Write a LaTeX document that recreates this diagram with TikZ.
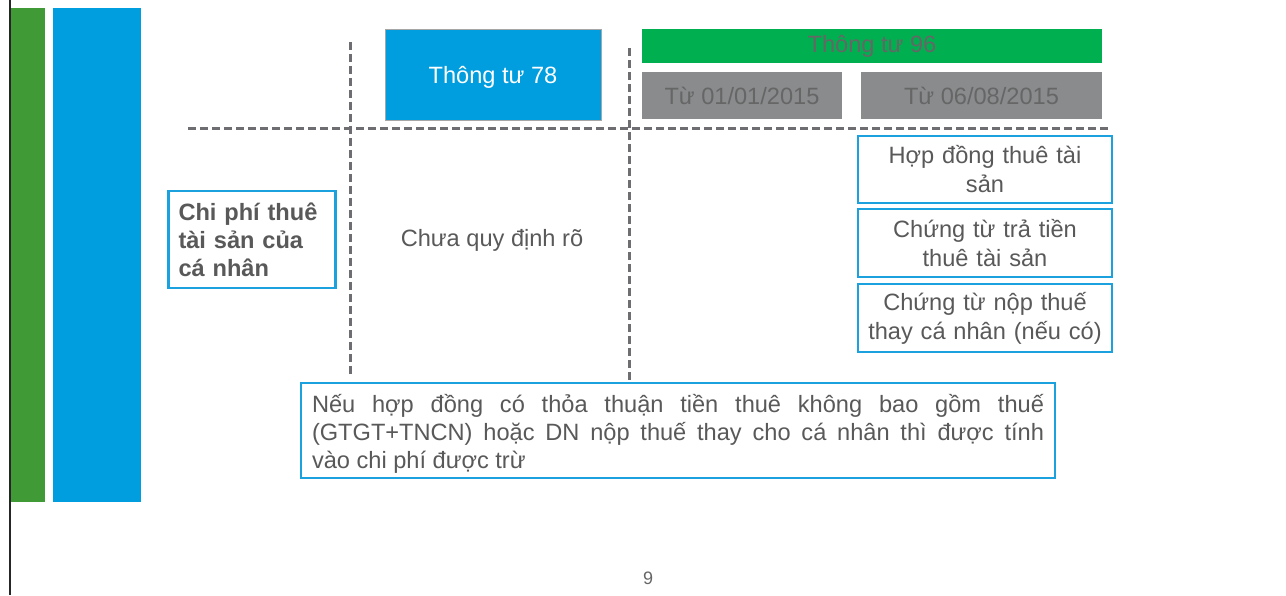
\documentclass[tikz,border=0pt]{standalone}
\usepackage{fontspec}
\setmainfont{Liberation Sans}
\definecolor{barGreen}{RGB}{64,155,54}
\definecolor{barBlue}{RGB}{0,158,223}
\definecolor{hdrGreen}{RGB}{0,176,80}
\definecolor{hdrGray}{RGB}{137,139,141}
\definecolor{txtGray}{RGB}{89,89,89}
\definecolor{txtMid}{RGB}{102,102,102}
\definecolor{dashGray}{RGB}{110,110,114}
\definecolor{frameBlue}{RGB}{27,161,222}
\begin{document}
\begin{tikzpicture}[x=1pt,y=-1pt,
  every node/.style={inner sep=0pt, outer sep=0pt},
  dashline/.style={draw=dashGray, line width=3pt, dash pattern=on 8pt off 4pt},
  framebox/.style={rectangle, draw=frameBlue, line width=2.8pt, fill=white, text=txtGray, align=center,
     font=\fontsize{23.6}{29}\selectfont},
  hdr/.style={rectangle, font=\fontsize{23.6}{28}\selectfont, text=txtMid}
]
\useasboundingbox (0,0) rectangle (1286,595);
\fill[white] (0,0) rectangle (1286,595);
% left decorations
\coordinate (lt) at (10,0); \coordinate (lb) at (10,595);
\draw[line width=2pt, black!85] (lt) -- (lb);
\node[fill=barGreen, minimum width=34pt, minimum height=494pt] (gbar) at (28,254.5) {};
\node[fill=barBlue, minimum width=88pt, minimum height=494pt] (bbar) at (97,254.5) {};
% dashed grid
\coordinate (v1t) at (350,42); \coordinate (v1b) at (350,376);
\coordinate (v2t) at (629,48); \coordinate (v2b) at (629,382);
\coordinate (hl) at (188,128); \coordinate (hr) at (1108,128);
\draw[dashline] (v1t) -- (v1b);
\draw[dashline] (v2t) -- (v2b);
\draw[dashline] (hl) -- (hr);
% headers
\node[hdr, fill=barBlue, draw=black!35, line width=0.8pt, text=white, minimum width=216pt, minimum height=91pt] (tt78) at (493,74.5) {};
\node[text=white, font=\fontsize{23.6}{28}\selectfont] (tt78t) at (493,77) {Thông tư 78};
\node[hdr, fill=hdrGreen, minimum width=460pt, minimum height=34pt] (tt96) at (872,46) {Thông tư 96};
\node[hdr, fill=hdrGray, minimum width=200pt, minimum height=47pt] (d1) at (742,95.5) {Từ 01/01/2015};
\node[hdr, fill=hdrGray, minimum width=241pt, minimum height=47pt] (d2) at (981.5,95.5) {Từ 06/08/2015};
% right boxes
\node[framebox, minimum width=254pt, minimum height=67pt, text width=245pt] (b1) at (985,169.5) {Hợp đồng thuê tài\\sản};
\node[framebox, minimum width=254pt, minimum height=68pt, text width=245pt] (b2) at (985,243) {Chứng từ trả tiền\\thuê tài sản};
\node[framebox, minimum width=254pt, minimum height=68pt, text width=245pt] (b3) at (985,318) {Chứng từ nộp thuế\\thay cá nhân (nếu có)};
% left label box
\node[framebox, minimum width=167pt, minimum height=97pt, text width=147pt, align=left, font=\fontsize{23.6}{28}\selectfont\bfseries] (chi) at (252,239.5) {Chi phí thuê\\tài sản của\\cá nhân};
% middle text
\node[text=txtGray, font=\fontsize{23.6}{28}\selectfont] (chua) at (492,240) {Chưa quy định rõ};
% bottom box
\node[framebox, line width=2.6pt, minimum width=754pt, minimum height=95pt] (noteframe) at (678,430.5) {};
\node[text=txtGray, text width=732pt, align=justify, font=\fontsize{23.6}{28}\selectfont] (note) at (678,434) {Nếu hợp đồng có thỏa thuận tiền thuê không bao gồm thuế\linebreak (GTGT+TNCN) hoặc DN nộp thuế thay cho cá nhân thì được tính\linebreak vào chi phí được trừ};
% page number
\node[text=txtMid, font=\fontsize{18}{20}\selectfont] (pg) at (648,578) {9};
\end{tikzpicture}
\end{document}
